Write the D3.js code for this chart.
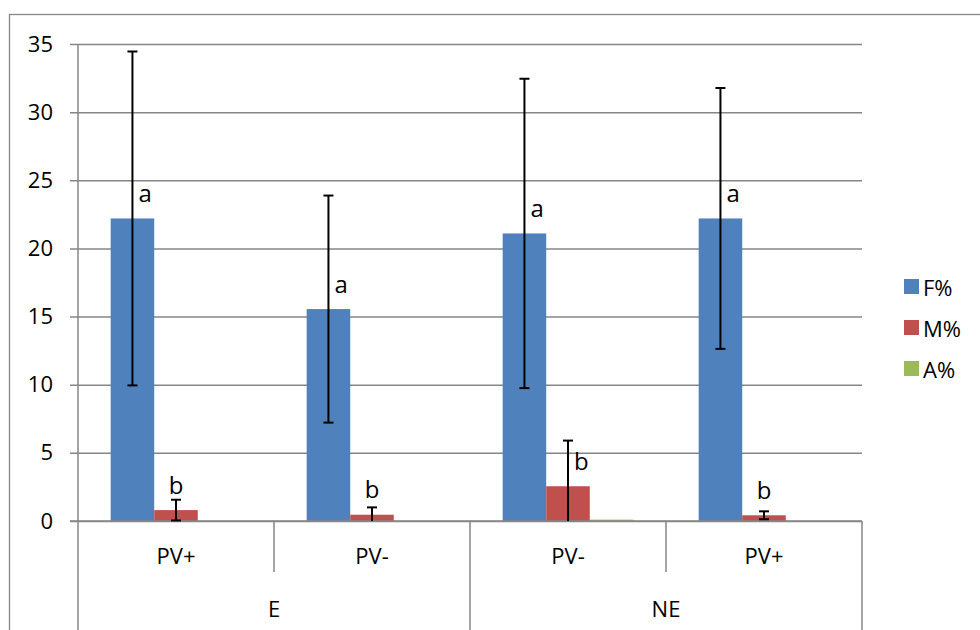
<!DOCTYPE html>
<html><head><meta charset="utf-8">
<script src="https://cdn.jsdelivr.net/npm/d3@7/dist/d3.min.js"></script>
<style>body{margin:0;background:#fff;} svg{display:block;}</style>
</head><body>
<svg id="c" width="980" height="630"></svg>
<script>
// ---- data ----
const categories = ["PV+", "PV-", "PV-", "PV+"];
const groups = ["E", "NE"];
const groupOf = [0, 0, 1, 1];
const series = ["F%", "M%", "A%"];
const fValues = [22.2, 15.55, 21.1, 22.2];
const fErrors = [12.25, 8.33, 11.35, 9.57];
const mValues = [0.8, 0.46, 2.55, 0.42];
const mErrors = [0.76, 0.54, 3.35, 0.29];
const aValues = [0, 0, 0.1, 0];
const fLetters = ["a", "a", "a", "a"];
const mLetters = ["b", "b", "b", "b"];
const yTicks = [0, 5, 10, 15, 20, 25, 30, 35];

const colors = {"F%": "#4F81BD", "M%": "#C0504D", "A%": "#9BBB59"};
const grid = "#868686";
const font = "'Open Sans', 'Liberation Sans', sans-serif";
const fs = 22;

const svg = d3.select("#c");
const L = 78, R = 862, T = 44, B = 521;

// frame
svg.append("rect").attr("x", 9.5).attr("y", 14.5).attr("width", 1000).attr("height", 700)
  .attr("fill", "none").attr("stroke", grid).attr("stroke-width", 1.3);

const y = d3.scaleLinear().domain([0, 35]).range([B, T]);
const x0 = d3.scaleBand().domain(d3.range(categories.length)).range([L, R]);
const x1 = d3.scaleBand().domain(series).range([0, x0.bandwidth()]).paddingOuter(0.75);

// y axis with gridlines
const yAxis = d3.axisLeft(y).tickValues(yTicks).tickSize(-(R - L)).tickPadding(25).tickSizeOuter(0);
const gy = svg.append("g").attr("transform", `translate(${L},0)`).call(yAxis);
gy.select(".domain").remove();
gy.selectAll(".tick line").attr("stroke", grid).attr("stroke-width", 1.5).attr("x1", -8);
gy.selectAll(".tick text").attr("font-family", font).attr("font-size", fs).attr("fill", "#000");
svg.append("line").attr("x1", L).attr("x2", L).attr("y1", T).attr("y2", B)
  .attr("stroke", grid).attr("stroke-width", 1.5);

// bars
const rows = categories.map((c, i) => ({i, vals: [fValues[i], mValues[i], aValues[i]]}));
const gCat = svg.append("g").selectAll("g").data(rows).join("g")
  .attr("transform", d => `translate(${x0(d.i)},0)`);
gCat.selectAll("rect").data(d => series.map((s, k) => ({s, v: d.vals[k]}))).join("rect")
  .attr("x", d => x1(d.s)).attr("width", x1.bandwidth())
  .attr("y", d => y(d.v)).attr("height", d => y(0) - y(d.v))
  .attr("fill", d => colors[d.s]);

// x axis line
svg.append("line").attr("x1", L - 8).attr("x2", R).attr("y1", B).attr("y2", B)
  .attr("stroke", grid).attr("stroke-width", 1.5);

// category separators
const seps = d3.range(categories.length + 1);
svg.append("g").selectAll("line").data(seps).join("line")
  .attr("x1", k => k < categories.length ? x0(k) : R)
  .attr("x2", k => k < categories.length ? x0(k) : R)
  .attr("y1", B)
  .attr("y2", k => (k === 0 || k === categories.length || groupOf[k] !== groupOf[k - 1]) ? 630 : 572)
  .attr("stroke", grid).attr("stroke-width", 1.5);

// category labels
svg.append("g").selectAll("text").data(categories).join("text")
  .attr("x", (d, i) => x0(i) + x0.bandwidth() / 2).attr("y", 555)
  .attr("text-anchor", "middle").attr("dominant-baseline", "central")
  .attr("font-family", font).attr("font-size", fs).text(d => d);

// group labels
svg.append("g").selectAll("text").data(groups).join("text")
  .attr("x", (g, gi) => {
    const idx = d3.range(categories.length).filter(i => groupOf[i] === gi);
    return (x0(idx[0]) + x0(idx[idx.length - 1]) + x0.bandwidth()) / 2;
  })
  .attr("y", 608).attr("text-anchor", "middle").attr("dominant-baseline", "central")
  .attr("font-family", font).attr("font-size", fs).text(d => d);

// error bars + letters
function errBars(vals, errs, letters, s) {
  const g = svg.append("g");
  vals.forEach((v, i) => {
    const cx = x0(i) + x1(s) + x1.bandwidth() / 2;
    const yt = y(v + errs[i]);
    const yb = y(Math.max(0, v - errs[i]));
    g.append("line").attr("x1", cx).attr("x2", cx).attr("y1", yt).attr("y2", yb)
      .attr("stroke", "#000").attr("stroke-width", 2);
    g.append("line").attr("x1", cx - 5).attr("x2", cx + 5).attr("y1", yt).attr("y2", yt)
      .attr("stroke", "#000").attr("stroke-width", 2);
    if (v - errs[i] > 0) {
      g.append("line").attr("x1", cx - 5).attr("x2", cx + 5).attr("y1", yb).attr("y2", yb)
        .attr("stroke", "#000").attr("stroke-width", 2);
    }
    const ly = y(v) - 26;
    const overlaps = yt < ly + 8;
    g.append("text").attr("x", overlaps ? cx + 6 : cx).attr("y", ly)
      .attr("text-anchor", overlaps ? "start" : "middle").attr("dominant-baseline", "central")
      .attr("font-family", font).attr("font-size", 24).text(letters[i]);
  });
}
errBars(fValues, fErrors, fLetters, "F%");
errBars(mValues, mErrors, mLetters, "M%");

// legend
const lg = svg.append("g").selectAll("g").data(series).join("g")
  .attr("transform", (d, i) => `translate(904,${287 + i * 41})`);
lg.append("rect").attr("x", 0).attr("y", -8).attr("width", 15).attr("height", 15)
  .attr("fill", d => colors[d]);
lg.append("text").attr("x", 19).attr("y", 0).attr("dominant-baseline", "central")
  .attr("font-family", font).attr("font-size", fs).text(d => d);
</script>
</body></html>
